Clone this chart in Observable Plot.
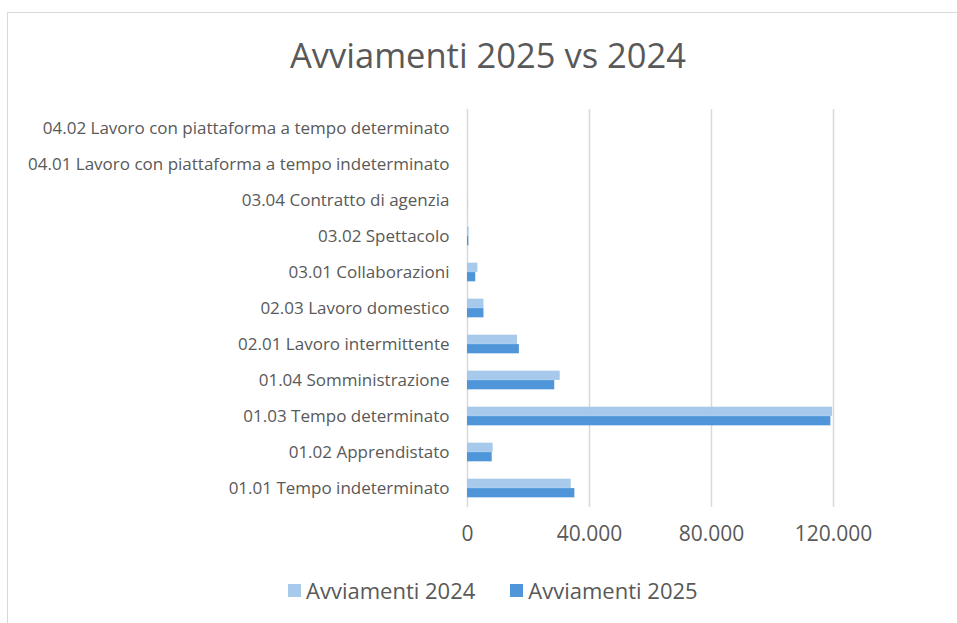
<!DOCTYPE html>
<html>
<head>
<meta charset="utf-8">
<script src="https://cdn.jsdelivr.net/npm/d3@7"></script>
<script src="https://cdn.jsdelivr.net/npm/@observablehq/plot@0.6"></script>
<style>
  html, body { margin: 0; padding: 0; background: #fff; }
  #wrap { position: relative; width: 957px; height: 623px; overflow: hidden; font-family: "Open Sans", sans-serif; color: #595959; }
  #frame { position: absolute; left: 7px; top: 12px; right: -2px; bottom: -2px; border-left: 1.5px solid #d9d9d9; border-top: 1.5px solid #d9d9d9; }
  #title { position: absolute; top: 32px; left: 488px; transform: translateX(-50%); white-space: nowrap; font-size: 34.5px; line-height: 46px; color: #595959; }
  #chart { position: absolute; top: 95px; left: 0; }
  #legend { position: absolute; top: 576px; left: 288px; display: flex; align-items: center; font-size: 22px; line-height: 28px; white-space: nowrap; }
  .item { display: flex; align-items: center; margin-right: 35px; }
  .sw { width: 13px; height: 13px; margin-right: 5px; }
</style>
</head>
<body>
<div id="wrap">
  <div id="frame"></div>
  <div id="title">Avviamenti 2025 vs 2024</div>
  <div id="chart"></div>
  <div id="legend"></div>
</div>
<script>
const categories = [
  "01.01 Tempo indeterminato",
  "01.02 Apprendistato",
  "01.03 Tempo determinato",
  "01.04 Somministrazione",
  "02.01 Lavoro intermittente",
  "02.03 Lavoro domestico",
  "03.01 Collaborazioni",
  "03.02 Spettacolo",
  "03.04 Contratto di agenzia",
  "04.01 Lavoro con piattaforma a tempo indeterminato",
  "04.02 Lavoro con piattaforma a tempo determinato"
];
const avviamenti2024 = [34000, 8400, 119700, 30400, 16400, 5400, 3400, 550, 40, 0, 0];
const avviamenti2025 = [35200, 8100, 119150, 28600, 17000, 5400, 2700, 450, 30, 0, 0];
const seriesNames = ["Avviamenti 2024", "Avviamenti 2025"];
const seriesColors = ["#A6C9EC", "#4E95D9"];
const xTicks = [0, 40000, 80000, 120000];

const rows = [];
categories.forEach((c, i) => {
  rows.push({cat: c, series: seriesNames[0], value: avviamenti2024[i]});
  rows.push({cat: c, series: seriesNames[1], value: avviamenti2025[i]});
});

const H = 460, mTop = 14, mBottom = 48;
const step = (H - mTop - mBottom) / categories.length;
const barH = step * 0.26;
const half = step / 2;

const fmt = d3.format(",.0f");
const itFmt = v => fmt(v).replace(/,/g, ".");

const plot = Plot.plot({
  width: 957,
  height: H,
  marginTop: mTop,
  marginBottom: mBottom,
  marginLeft: 467,
  marginRight: 124,
  style: {fontFamily: "'Open Sans', sans-serif", color: "#595959", background: "transparent"},
  x: {domain: [0, 120000], ticks: xTicks, tickFormat: itFmt, label: null},
  y: {domain: categories.slice().reverse(), padding: 0, label: null},
  color: {domain: seriesNames, range: seriesColors},
  marks: [
    Plot.ruleX(xTicks, {stroke: "#d9d9d9", strokeWidth: 1.5}),
    Plot.barX(rows.filter(d => d.series === seriesNames[0]), {
      x: "value", y: "cat", fill: "series",
      insetTop: half - barH, insetBottom: half
    }),
    Plot.barX(rows.filter(d => d.series === seriesNames[1]), {
      x: "value", y: "cat", fill: "series",
      insetTop: half, insetBottom: half - barH
    }),
    Plot.axisX({ticks: xTicks, tickFormat: itFmt, tickSize: 0, tickPadding: 19, fontSize: 21, label: null, fill: "#595959"}),
    Plot.axisY({tickSize: 0, tickPadding: 18, fontSize: 17, label: null, fill: "#595959"})
  ]
});
document.getElementById("chart").appendChild(plot);

const legend = document.getElementById("legend");
seriesNames.forEach((s, i) => {
  const it = document.createElement("div");
  it.className = "item";
  const sw = document.createElement("span");
  sw.className = "sw";
  sw.style.background = seriesColors[i];
  const tx = document.createElement("span");
  tx.textContent = s;
  it.appendChild(sw); it.appendChild(tx);
  legend.appendChild(it);
});
</script>
</body>
</html>
